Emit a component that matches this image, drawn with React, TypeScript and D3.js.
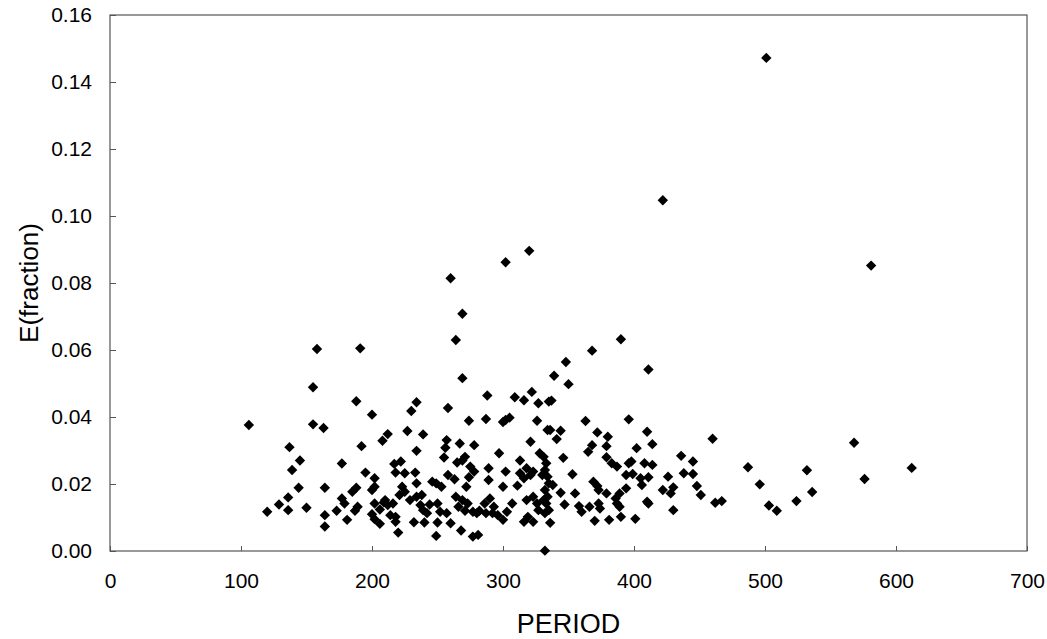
import { useEffect, useRef } from "react";
import * as d3 from "d3";

// period / E(fraction) pairs
const period: number[] = [
    158, 191, 155, 188, 200, 106, 155, 163, 208, 212, 137, 192, 145, 139, 177, 195, 202, 144, 164, 185,
    188, 200, 202, 136, 129, 120, 136, 150, 177, 179, 173, 164, 187, 189, 181, 164, 202, 209, 206, 200,
    202, 206, 214,
    501, 422, 320, 302, 260, 269, 264, 390,
    581, 460, 451, 462, 467, 487, 496, 503, 509, 524, 532, 536, 568, 576, 612,
    269, 288, 234, 230, 258, 309, 316, 322, 327, 335, 274, 287, 300, 302, 305, 326, 334, 227, 239, 257,
    256, 267, 278, 234, 255, 271, 269, 265, 297, 321, 328, 331, 313, 217, 222, 218, 225, 233, 234, 275,
    278, 274, 272, 289, 302, 289, 300, 258, 263, 246, 249, 253, 313, 318, 316, 321, 323, 311, 330, 223,
    225, 221, 210, 212, 216, 218, 218, 220, 232, 240, 229, 234, 238, 237, 239, 242, 244, 250, 252, 250,
    249, 257, 260, 268, 264, 269, 266, 273, 277, 280, 282, 271, 277, 281, 286, 290, 293, 287, 292, 296,
    300, 303, 307, 316, 319, 318, 323, 326, 331, 327, 332, 332, 323,
    368, 348, 339, 350, 411, 337, 363, 396, 336, 344, 341, 372, 380, 410, 414, 368, 365, 379, 402, 346,
    379, 383, 387, 396, 398, 408, 414, 436, 445, 438, 445, 426, 353, 394, 399, 405, 406, 411, 338, 344,
    355, 369, 372, 373, 379, 389, 386, 387, 389, 394, 422, 428, 430, 448, 410, 411, 430, 347, 358, 360,
    366, 373, 374, 370, 381, 390, 401,
    333, 332, 334, 335, 332, 334, 333, 335, 336,
];

const fraction: number[] = [
    0.0603, 0.0605, 0.0489, 0.0447, 0.0407, 0.0376, 0.0378, 0.0367, 0.0329, 0.0349, 0.031, 0.0313, 0.027, 0.0242, 0.0261, 0.0234, 0.0217, 0.0189, 0.0189, 0.0177,
    0.0189, 0.0182, 0.0192, 0.016, 0.0139, 0.0117, 0.0122, 0.0129, 0.0157, 0.0142, 0.012, 0.0107, 0.012, 0.0132, 0.0093, 0.0073, 0.0142, 0.0145, 0.0124, 0.011,
    0.0095, 0.0081, 0.0107,
    0.1472, 0.1047, 0.0896, 0.0862, 0.0814, 0.0708, 0.063, 0.0632,
    0.0852, 0.0335, 0.0167, 0.0144, 0.0149, 0.025, 0.0199, 0.0136, 0.012, 0.0149, 0.0241, 0.0176, 0.0323, 0.0215, 0.0248,
    0.0516, 0.0464, 0.0444, 0.0418, 0.0427, 0.0459, 0.045, 0.0475, 0.0441, 0.0446, 0.0389, 0.0394, 0.0385, 0.0391, 0.0398, 0.0389, 0.0361, 0.0358, 0.0348, 0.0331,
    0.0308, 0.0321, 0.0316, 0.0299, 0.0279, 0.0281, 0.027, 0.0264, 0.0292, 0.0326, 0.0292, 0.0281, 0.027, 0.026, 0.0267, 0.0234, 0.0232, 0.0234, 0.0202, 0.0252,
    0.0237, 0.022, 0.0192, 0.0247, 0.0237, 0.0212, 0.0192, 0.0227, 0.0214, 0.0207, 0.0202, 0.0192, 0.0232, 0.0247, 0.0217, 0.0227, 0.0237, 0.0195, 0.0227, 0.0192,
    0.0177, 0.0167, 0.0152, 0.0137, 0.0142, 0.0102, 0.0087, 0.0055, 0.0086, 0.0085, 0.0152, 0.0162, 0.0167, 0.0137, 0.0122, 0.0113, 0.0139, 0.0142, 0.0117, 0.0085,
    0.0045, 0.0113, 0.0083, 0.0061, 0.0162, 0.0152, 0.0132, 0.0142, 0.0117, 0.0113, 0.012, 0.012, 0.0043, 0.0048, 0.0142, 0.0157, 0.0132, 0.0113, 0.0113, 0.0107,
    0.0093, 0.0117, 0.0142, 0.0087, 0.0102, 0.0152, 0.0162, 0.0142, 0.0152, 0.0122, 0.0113, 0.0001, 0.0087,
    0.0598, 0.0564, 0.0523, 0.0498, 0.0542, 0.0449, 0.0388, 0.0393, 0.0361, 0.0359, 0.0334, 0.0354, 0.0341, 0.0356, 0.0319, 0.0316, 0.0296, 0.0313, 0.0307, 0.0278,
    0.028, 0.0262, 0.0252, 0.0262, 0.0267, 0.0262, 0.0257, 0.0284, 0.0267, 0.0232, 0.023, 0.0222, 0.0229, 0.0227, 0.023, 0.0217, 0.0197, 0.022, 0.0197, 0.0174,
    0.0172, 0.0207, 0.0194, 0.0182, 0.0172, 0.0172, 0.0157, 0.0142, 0.0132, 0.0187, 0.0182, 0.0172, 0.019, 0.0194, 0.0147, 0.0142, 0.0122, 0.0139, 0.0134, 0.0117,
    0.0132, 0.0142, 0.0127, 0.009, 0.0093, 0.0102, 0.0096,
    0.0262, 0.0242, 0.0222, 0.0202, 0.0182, 0.0162, 0.0142, 0.0122, 0.0084,
];

const xTicks = [0, 100, 200, 300, 400, 500, 600, 700];
const yTicks = [0, 0.02, 0.04, 0.06, 0.08, 0.1, 0.12, 0.14, 0.16];

const App = () => {
    const svgRef = useRef<SVGSVGElement | null>(null);

    useEffect(() => {
        const svg = d3.select(svgRef.current);
        svg.selectAll("*").remove();

        const margin = { top: 15, right: 20, bottom: 88, left: 110 };
        const width = 1047 - margin.left - margin.right;
        const height = 639 - margin.top - margin.bottom;
        const font = "'Liberation Sans', Arial, sans-serif";

        const g = svg.append("g").attr("transform", `translate(${margin.left},${margin.top})`);

        const x = d3.scaleLinear().domain([0, 700]).range([0, width]);
        const y = d3.scaleLinear().domain([0, 0.16]).range([height, 0]);

        // plot frame
        g.append("rect")
            .attr("width", width)
            .attr("height", height)
            .attr("fill", "none")
            .attr("stroke", "#555")
            .attr("stroke-width", 1.2);

        const xAxis = g
            .append("g")
            .attr("transform", `translate(0,${height})`)
            .call(d3.axisBottom(x).tickValues(xTicks).tickSizeInner(-5).tickSizeOuter(0).tickPadding(22));
        const yAxis = g
            .append("g")
            .call(
                d3.axisLeft(y).tickValues(yTicks).tickFormat(d3.format(".2f")).tickSizeInner(-6).tickSizeOuter(0).tickPadding(18)
            );

        [xAxis, yAxis].forEach((a) => {
            a.select(".domain").remove();
            a.selectAll(".tick line").attr("stroke", "#555");
            a.selectAll(".tick text").attr("fill", "#000").style("font-family", font).style("font-size", "21px");
        });

        const diamond = d3.symbol().type(d3.symbolSquare).size(54);
        g.selectAll(".pt")
            .data(period.map((p, i) => [p, fraction[i]]))
            .enter()
            .append("path")
            .attr("class", "pt")
            .attr("d", diamond)
            .attr("transform", (d) => `translate(${x(d[0])},${y(d[1])}) rotate(45)`)
            .attr("fill", "#000");

        svg.append("text")
            .attr("x", margin.left + width / 2)
            .attr("y", 633)
            .attr("text-anchor", "middle")
            .style("font-family", font)
            .style("font-size", "27px")
            .text("PERIOD");

        svg.append("text")
            .attr("transform", `translate(38,${margin.top + height / 2}) rotate(-90)`)
            .attr("text-anchor", "middle")
            .style("font-family", font)
            .style("font-size", "26px")
            .text("E(fraction)");
    }, []);

    return (
        <div style={{ position: "fixed", left: 0, top: 0, background: "#fff" }}>
            <svg ref={svgRef} width={1047} height={639} style={{ display: "block" }}></svg>
        </div>
    );
};

export default App;
